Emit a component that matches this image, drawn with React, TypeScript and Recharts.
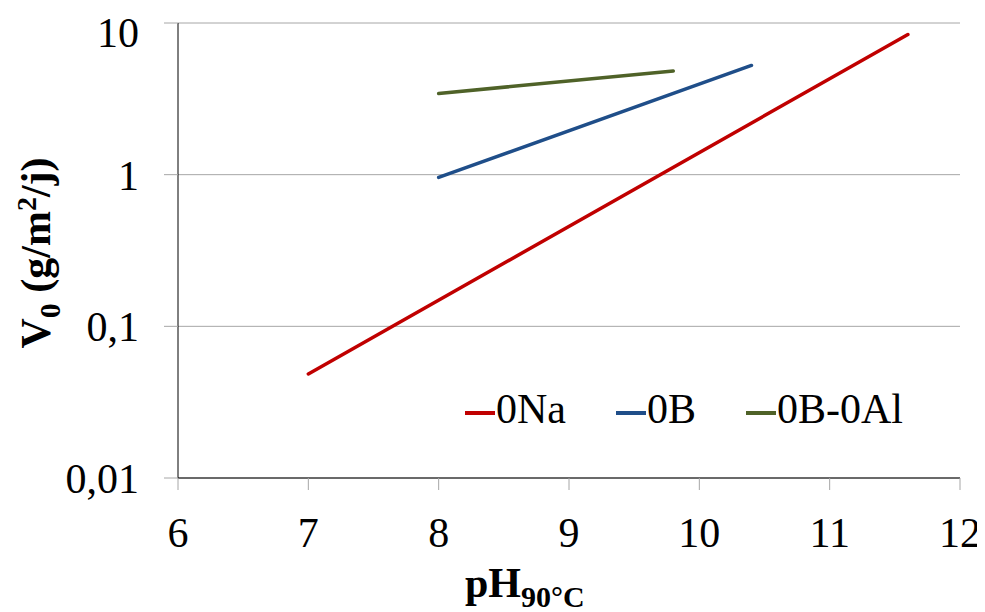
import React from "react";
import { LineChart, Line, XAxis, YAxis, CartesianGrid } from "recharts";

const xTicks = [6, 7, 8, 9, 10, 11, 12];
const yTicks = [0.01, 0.1, 1, 10];

const naPH = [7, 11.6];
const naV = [0.0485, 8.4];
const bPH = [8, 10.4];
const bV = [0.96, 5.25];
const alPH = [8, 9.8];
const alV = [3.43, 4.83];

const toData = (xs: number[], ys: number[]) => xs.map((x, i) => ({ x, y: ys[i] }));

const series = [
  { name: "0Na", color: "#C00000", data: toData(naPH, naV) },
  { name: "0B", color: "#1F4E89", data: toData(bPH, bV) },
  { name: "0B-0Al", color: "#4F6228", data: toData(alPH, alV) },
];

const FONT = "'Liberation Serif', 'Times New Roman', serif";

const fmt = (v: number) => String(v).replace(".", ",");

const LegendBox = () => (
  <div
    style={{
      position: "absolute",
      left: 457,
      top: 380,
      display: "flex",
      alignItems: "center",
      fontFamily: FONT,
      fontSize: 42,
      lineHeight: "42px",
      color: "#000",
      whiteSpace: "nowrap",
    }}
  >
    {series.map((s, i) => (
      <div key={s.name} style={{ display: "flex", alignItems: "center", marginRight: i < 2 ? 50 : 0 }}>
        <div style={{ width: 30, height: 4, background: s.color, marginRight: 1, position: "relative", top: 4 }} />
        <span>{s.name}</span>
      </div>
    ))}
  </div>
);

export default function App() {
  return (
    <div style={{ position: "relative", width: 977, height: 604, background: "#fff" }}>
      <LineChart width={977} height={604} margin={{ top: 15, right: 25, left: 0, bottom: 0 }}>
        <CartesianGrid horizontal={true} vertical={false} stroke="#A6A6A6" strokeWidth={1} />
        <XAxis
          type="number"
          dataKey="x"
          domain={[6, 12]}
          ticks={xTicks}
          allowDataOverflow
          height={134}
          stroke="#000"
          tickSize={12}
          tickMargin={27}
          tickLine={{ stroke: "#A6A6A6" }}
          tick={{ fontFamily: FONT, fontSize: 42, fill: "#000" }}
          label={{
            content: () => (
              <text x={457} y={589} fontFamily={FONT} fontWeight="bold" fill="#000" textAnchor="start">
                <tspan fontSize={42}>pH</tspan>
                <tspan fontSize={30} dy={10}>90°C</tspan>
              </text>
            ),
          }}
        />
        <YAxis
          type="number"
          dataKey="y"
          scale="log"
          domain={[0.01, 10]}
          ticks={yTicks}
          allowDataOverflow
          width={170}
          stroke="#000"
          tickSize={14}
          tickMargin={25}
          tickLine={{ stroke: "#A6A6A6" }}
          tickFormatter={fmt}
          tick={{ fontFamily: FONT, fontSize: 42, fill: "#000" }}
          label={{
            content: () => (
              <text
                x={0}
                y={0}
                transform="translate(42 245) rotate(-90)"
                fontFamily={FONT}
                fontWeight="bold"
                fill="#000"
                textAnchor="middle"
              >
                <tspan fontSize={42}>V</tspan>
                <tspan fontSize={30} dy={10}>0</tspan>
                <tspan fontSize={42} dy={-10}> (g/m</tspan>
                <tspan fontSize={28} dy={-14}>2</tspan>
                <tspan fontSize={42} dy={14}>/j)</tspan>
              </text>
            ),
          }}
        />
        {series.map((s) => (
          <Line
            key={s.name}
            data={s.data}
            dataKey="y"
            name={s.name}
            stroke={s.color}
            strokeWidth={3.5}
            dot={false}
            activeDot={false}
            strokeLinecap="round"
            isAnimationActive={false}
          />
        ))}
      </LineChart>
      <LegendBox />
    </div>
  );
}
